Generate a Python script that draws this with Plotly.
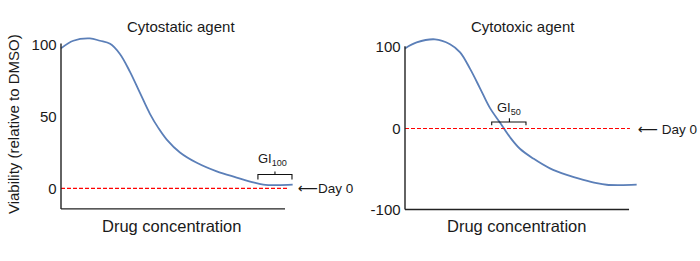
import plotly.graph_objects as go

W, H = 700, 261

# Data (concentration on 0-100 arbitrary scale)
static_x = [0, 5.5, 12.9, 17.4, 21.9, 26.3, 30.8, 35.3, 39.7, 43.5, 47.2, 53.1, 60.6, 69.5, 78.4, 85.8, 90.3, 96.3, 103.4]
static_y = [97.7, 103, 104.6, 103.0, 100.9, 93.8, 81.3, 66.4, 52.0, 42.0, 34.0, 25.0, 17.8, 11.8, 7.5, 4.1, 2.6, 2.2, 2.5]

toxic_x = [0, 5.2, 13.4, 20.1, 24.6, 29.0, 33.5, 37.9, 42.6, 46.9, 51.3, 57.3, 64.7, 72.2, 79.6, 85.6, 90.0, 96.0, 103.4]
toxic_y = [98.4, 105.7, 109.6, 103.6, 93.6, 73.5, 49.4, 25.3, 6.5, -10.8, -24.9, -37, -49, -57, -63, -67.1, -69.1, -69.5, -69]

left_ticks = [0, 50, 100]
left_labels = ["0", "50", "100"]
right_ticks = [-100, 0, 100]
right_labels = ["-100", "0", "100"]
titles = ["Cytostatic agent", "Cytotoxic agent"]

FONT = "Liberation Sans, Arial, sans-serif"
TXT = "#1a1a1a"
BLUE = "#5b7fb8"

def px2px(a, b):
    return [a / W, b / W]

def py(p):
    return 1 - p / H

fig = go.Figure()
fig.add_trace(go.Scatter(x=static_x, y=static_y, mode="lines", line=dict(color=BLUE, width=1.8, shape="spline", smoothing=1.0),
                         xaxis="x", yaxis="y", showlegend=False, hoverinfo="skip"))
fig.add_trace(go.Scatter(x=toxic_x, y=toxic_y, mode="lines", line=dict(color=BLUE, width=1.8, shape="spline", smoothing=1.0),
                         xaxis="x2", yaxis="y2", showlegend=False, hoverinfo="skip"))
# Day 0 reference lines
fig.add_trace(go.Scatter(x=[0, 100.9], y=[0, 0], mode="lines", line=dict(color="#ff0000", width=1.2, dash="4px,2px"),
                         xaxis="x", yaxis="y", showlegend=False, hoverinfo="skip"))
fig.add_trace(go.Scatter(x=[0, 100.4], y=[0, 0], mode="lines", line=dict(color="#ff0000", width=1.2, dash="4px,2px"),
                         xaxis="x2", yaxis="y2", showlegend=False, hoverinfo="skip"))

xr = [-1.5, 104]
common_x = dict(range=xr, showgrid=False, zeroline=False, showline=False, showticklabels=False, ticks="", fixedrange=True)
fig.update_layout(
    width=W, height=H,
    margin=dict(l=0, r=0, t=0, b=0),
    paper_bgcolor="white", plot_bgcolor="rgba(0,0,0,0)",
    font=dict(family=FONT, color=TXT),
    xaxis=dict(domain=px2px(61 - 1.5 * 2.24, 294), anchor="y", **common_x),
    xaxis2=dict(domain=px2px(405 - 1.5 * 2.24, 638), anchor="y2", **common_x),
    yaxis=dict(domain=[py(216.8), py(36)], range=[-17, 106.8], anchor="x", tickvals=left_ticks, ticktext=left_labels,
               showgrid=False, zeroline=False, showline=False, ticks="", tickfont=dict(size=15, color=TXT)),
    yaxis2=dict(domain=[py(217.3), py(36)], range=[-104, 114.5], anchor="x2", tickvals=right_ticks, ticktext=right_labels,
                showgrid=False, zeroline=False, showline=False, ticks="", tickfont=dict(size=15, color=TXT)),
)

shapes = []
AX = dict(color="#222222", width=1.4)
# axis lines (left)
shapes.append(dict(type="line", xref="x", yref="y", x0=0, x1=0, y0=-14.4, y1=101, line=AX))
shapes.append(dict(type="line", xref="x", yref="y", x0=0, x1=100, y0=-14.4, y1=-14.4, line=AX))
# axis lines (right)
shapes.append(dict(type="line", xref="x2", yref="y2", x0=0, x1=0, y0=-99.5, y1=101, line=AX))
shapes.append(dict(type="line", xref="x2", yref="y2", x0=0, x1=100, y0=-99.5, y1=-99.5, line=AX))
# brackets
BR = dict(color="#111111", width=1.1)
shapes.append(dict(type="path", xref="x", yref="y",
                   path="M 87.9,6.2 L 87.9,9.6 L 103.1,9.6 L 103.1,6.2 M 95.5,9.6 L 95.5,11.8", line=BR))
shapes.append(dict(type="path", xref="x2", yref="y2",
                   path="M 38.7,4 L 38.7,8 L 54,8 L 54,4 M 46.6,8 L 46.6,12.6", line=BR))
fig.update_layout(shapes=shapes)

ann = []
ann.append(dict(text=titles[0], xref="paper", yref="paper", x=180.5 / W, y=py(27), showarrow=False,
                font=dict(size=15, color=TXT), xanchor="center", yanchor="middle"))
ann.append(dict(text=titles[1], xref="paper", yref="paper", x=523 / W, y=py(27), showarrow=False,
                font=dict(size=15, color=TXT), xanchor="center", yanchor="middle"))
ann.append(dict(text="Drug concentration", xref="paper", yref="paper", x=171.5 / W, y=py(230), showarrow=False,
                font=dict(size=16.5, color=TXT), xanchor="center", yanchor="middle"))
ann.append(dict(text="Drug concentration", xref="paper", yref="paper", x=516 / W, y=py(230), showarrow=False,
                font=dict(size=16.5, color=TXT), xanchor="center", yanchor="middle"))
ann.append(dict(text="Viability (relative to DMSO)", xref="paper", yref="paper", x=13 / W, y=py(126.5),
                showarrow=False, textangle=-90, font=dict(size=15, color=TXT), xanchor="center", yanchor="middle"))
ann.append(dict(text="GI<sub>100</sub>", xref="x", yref="y", x=94.6, y=19.9, showarrow=False,
                font=dict(size=13, color=TXT), xanchor="center", yanchor="middle"))
ann.append(dict(text="GI<sub>50</sub>", xref="x2", yref="y2", x=46.5, y=24, showarrow=False,
                font=dict(size=13, color=TXT), xanchor="center", yanchor="middle"))
ann.append(dict(text="<span style='font-family:DejaVu Sans;font-size:14px'>⟵</span>Day 0", xref="paper", yref="y", x=296 / W, y=0,
                showarrow=False, font=dict(size=13.5, color=TXT), xanchor="left", yanchor="middle"))
ann.append(dict(text="<span style='font-family:DejaVu Sans;font-size:14px'>⟵</span> Day 0", xref="paper", yref="y2", x=636 / W, y=0,
                showarrow=False, font=dict(size=13.5, color=TXT), xanchor="left", yanchor="middle"))
fig.update_layout(annotations=ann)

fig.write_html("out.html", config={"displayModeBar": False},
               post_script="document.body.style.margin='0';document.body.style.padding='0';")
